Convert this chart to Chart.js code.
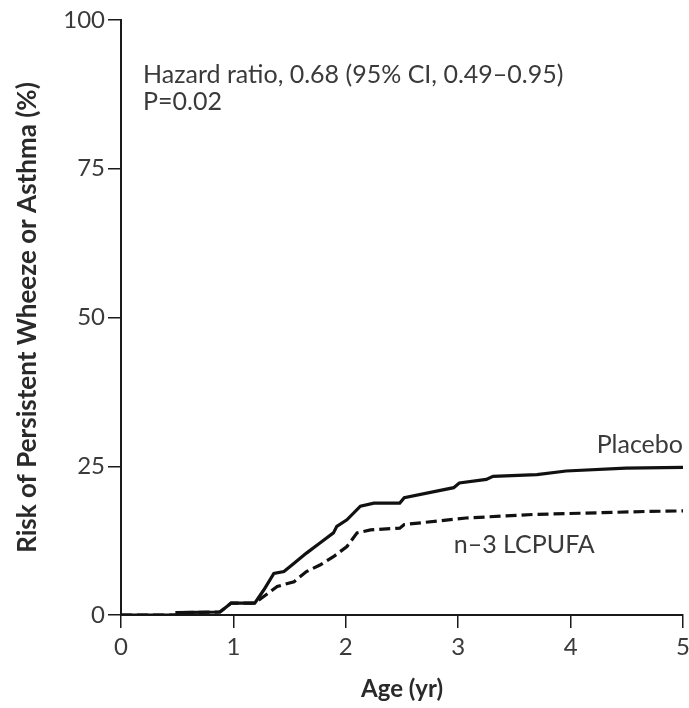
<!DOCTYPE html>
<html>
<head>
<meta charset="utf-8">
<script src="https://cdn.jsdelivr.net/npm/chart.js@4/dist/chart.umd.min.js"></script>
<style>
  html, body { margin: 0; padding: 0; background: #ffffff; }
  #wrap { width: 689px; height: 708px; position: relative; }
</style>
</head>
<body>
<div id="wrap"><canvas id="c" width="689" height="708"></canvas></div>
<script>
// ---- data ----
const placeboAge  = [0, 0.5, 0.5, 0.88, 0.92, 0.98, 1.19, 1.27, 1.36, 1.45, 1.54, 1.65, 1.77, 1.89, 1.92, 2.01, 2.13, 2.25, 2.48, 2.52, 2.96, 3.01, 3.25, 3.31, 3.70, 3.96, 4.49, 5.0];
const placeboRisk = [0, 0, 0.4, 0.5, 1.1, 2.0, 2.0, 4.2, 7.0, 7.3, 8.7, 10.4, 12.1, 13.8, 14.9, 16.0, 18.3, 18.8, 18.8, 19.7, 21.4, 22.2, 22.8, 23.3, 23.6, 24.2, 24.7, 24.8];
const lcpufaAge   = [0, 0.5, 0.5, 0.88, 0.92, 0.98, 1.19, 1.27, 1.39, 1.54, 1.65, 1.77, 1.89, 2.01, 2.10, 2.22, 2.48, 2.52, 3.07, 3.67, 4.08, 4.67, 5.0];
const lcpufaRisk  = [0, 0, 0.4, 0.5, 1.1, 2.0, 2.0, 3.1, 4.8, 5.6, 7.3, 8.4, 9.8, 11.5, 13.8, 14.3, 14.6, 15.2, 16.3, 16.9, 17.1, 17.4, 17.5];
const seriesNames = ["Placebo", "n\u20133 LCPUFA"];
const xTicks = [0, 1, 2, 3, 4, 5];
const yTicks = [0, 25, 50, 75, 100];
const annotationLines = ["Hazard ratio, 0.68 (95% CI, 0.49\u20130.95)", "P=0.02"];
const xTitle = "Age (yr)";
const yTitle = "Risk of Persistent Wheeze or Asthma (%)";

const toPts = (xs, ys) => xs.map((x, i) => ({ x: x, y: ys[i] }));

const FONT = "Lato, 'Open Sans', sans-serif";
const TEXT = "#3a3a3a";
const AXIS = "#1a1a1a";

const labelPlugin = {
  id: "labels",
  afterDraw(chart) {
    const { ctx, scales: { x, y } } = chart;
    ctx.save();
    ctx.fillStyle = TEXT;
    ctx.font = "25px " + FONT;
    ctx.textBaseline = "alphabetic";
    ctx.textAlign = "left";
    ctx.fillText(annotationLines[0], x.getPixelForValue(0.196), y.getPixelForValue(89.4));
    ctx.fillText(annotationLines[1], x.getPixelForValue(0.196), y.getPixelForValue(84.9));
    ctx.textAlign = "right";
    ctx.fillText(seriesNames[0], x.getPixelForValue(5), y.getPixelForValue(27.2));
    ctx.textAlign = "left";
    ctx.fillText(seriesNames[1], x.getPixelForValue(2.96), y.getPixelForValue(10.4));
    ctx.restore();
  }
};

new Chart(document.getElementById("c"), {
  type: "line",
  data: {
    datasets: [
      {
        label: seriesNames[0],
        data: toPts(placeboAge, placeboRisk),
        borderColor: "#111111",
        borderWidth: 3.2,
        pointRadius: 0,
        tension: 0,
        fill: false
      },
      {
        label: seriesNames[1],
        data: toPts(lcpufaAge, lcpufaRisk),
        borderColor: "#111111",
        borderWidth: 3.2,
        borderDash: [11, 5],
        pointRadius: 0,
        tension: 0,
        fill: false
      }
    ]
  },
  options: {
    responsive: false,
    animation: false,
    layout: { padding: { top: 20, right: 6, left: 0, bottom: 0 } },
    plugins: { legend: { display: false }, tooltip: { enabled: false } },
    scales: {
      x: {
        type: "linear",
        min: 0, max: 5,
        afterBuildTicks: (s) => { s.ticks = xTicks.map(v => ({ value: v })); },
        afterFit: (s) => { s.height = 93; s.paddingLeft = 0; s.paddingRight = 0; },
        border: { display: true, color: AXIS, width: 2 },
        grid: { display: true, drawOnChartArea: false, drawTicks: true, tickLength: 13, color: AXIS, lineWidth: 1.5 },
        ticks: { color: TEXT, font: { family: FONT, size: 24 }, padding: 5, maxRotation: 0 },
        title: { display: true, text: xTitle, color: "#2a2a2a", font: { family: FONT, size: 24, weight: "bold" }, padding: { top: 0, bottom: 4 } }
      },
      y: {
        type: "linear",
        min: 0, max: 100,
        afterBuildTicks: (s) => { s.ticks = yTicks.map(v => ({ value: v })); },
        afterFit: (s) => { s.width = 121; s.paddingTop = 0; s.paddingBottom = 0; },
        border: { display: true, color: AXIS, width: 2 },
        grid: { display: true, drawOnChartArea: false, drawTicks: true, tickLength: 13, color: AXIS, lineWidth: 1.5 },
        ticks: { color: TEXT, font: { family: FONT, size: 24 }, padding: 3 },
        title: { display: true, text: yTitle, color: "#2a2a2a", font: { family: FONT, size: 26, weight: "bold" }, padding: { top: 12, bottom: 0 } }
      }
    }
  },
  plugins: [labelPlugin]
});
</script>
</body>
</html>
